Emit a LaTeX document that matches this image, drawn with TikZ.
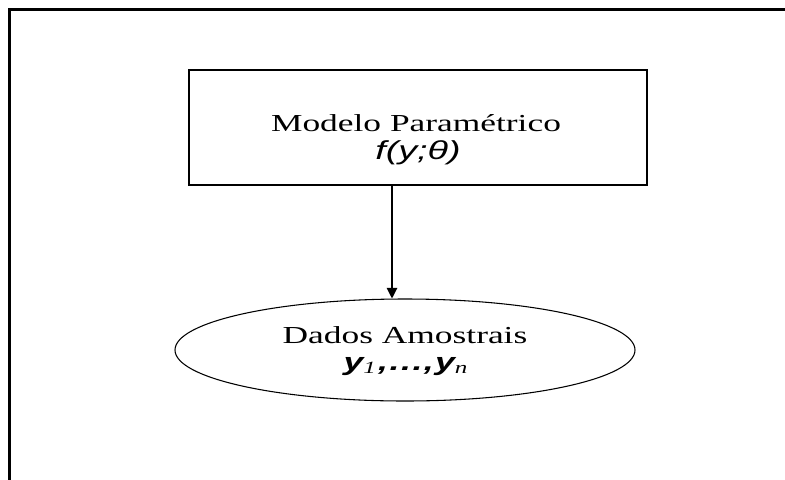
\documentclass[tikz,border=0pt]{standalone}
\usepackage{fontspec}
\setmainfont{Liberation Serif}
\newfontfamily\arialf{Liberation Sans}
\usepackage{graphicx}
\usetikzlibrary{shapes.geometric,arrows.meta}
\tikzset{
  frameline/.style={line width=2.6pt},
  modelbox/.style={draw, line width=1.4pt, rectangle, minimum width=343.5pt, minimum height=86.25pt, inner sep=0pt},
  dataell/.style={draw, line width=0.8pt, ellipse, minimum width=345pt, minimum height=76.5pt, inner sep=0pt},
  txt/.style={anchor=base, inner sep=0pt},
  arr/.style={line width=0.8pt, -{Triangle[length=8pt,width=8pt]}}
}
\newcommand{\stretchx}[1]{\scalebox{1.45}[1]{#1}}
\begin{document}
\begin{tikzpicture}[x=0.75pt,y=-0.75pt]
\useasboundingbox (0,0) rectangle (785,479);
\draw[frameline] (9.5,495) -- (9.5,9.5) -- (800,9.5);
\node[modelbox] (box) at (418,127.5) {};
\node[dataell] (ell) at (405,350) {};
\node[txt] (t1) at (416,131) {\stretchx{\fontsize{18.3}{20}\selectfont Modelo Paramétrico}};
\node[txt] (t2) at (418,159) {\stretchx{\fontsize{19.5}{22}\selectfont\arialf\itshape f(y;θ)}};
\node[txt] (t3) at (405,343) {\stretchx{\fontsize{18.3}{20}\selectfont Dados Amostrais}};
\node[txt] (t4) at (406,370) {\stretchx{\fontsize{18.5}{22}\selectfont\arialf\bfseries\itshape y\textsubscript{\normalfont\itshape 1}\kern0.6pt,\kern0.8pt.\kern0.8pt.\kern0.8pt.\kern0.8pt,\kern0.6pt y\textsubscript{\normalfont\itshape n}}};
\coordinate (a) at (392,185);
\draw[arr] (a) -- (a |- ell.north);
\end{tikzpicture}
\end{document}
